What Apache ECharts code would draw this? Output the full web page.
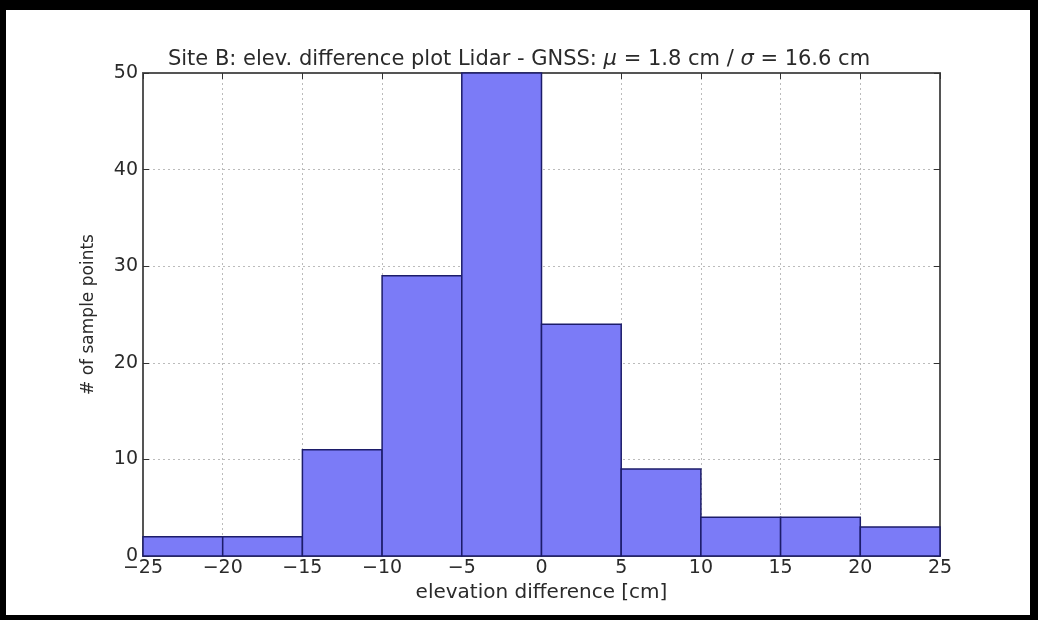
<!DOCTYPE html>
<html>
<head>
<meta charset="utf-8">
<script src="https://cdn.jsdelivr.net/npm/echarts@6/dist/echarts.min.js"></script>
<style>
html,body{margin:0;padding:0;background:#fff;}
#c{width:1038px;height:620px;}
</style>
</head>
<body>
<div id="c"></div>
<script>
// Histogram bins (edges in cm) and counts
var binStarts = [-25, -20, -15, -10, -5, 0, 5, 10, 15, 20];
var binEnds   = [-20, -15, -10, -5, 0, 5, 10, 15, 20, 25];
var counts    = [2, 2, 11, 29, 50, 24, 9, 4, 4, 3];
var xTicks = [-25, -20, -15, -10, -5, 0, 5, 10, 15, 20, 25];
var yTicks = [0, 10, 20, 30, 40, 50];
var titleText = 'Site B: elev. difference plot Lidar - GNSS: ';
var xName = 'elevation difference [cm]';
var yName = '# of sample points';

var data = binStarts.map(function (s, i) { return [s, binEnds[i], counts[i]]; });

var FONT = 'DejaVu Sans';
var chart = echarts.init(document.getElementById('c'), null, {renderer: 'canvas'});

function fmtMinus(v) { return v < 0 ? '\u2212' + Math.abs(v) : String(v); }

var axisLineStyle = {color: '#555', width: 2};
var tickStyle = {show: true, inside: true, length: 6, lineStyle: {color: '#333'}};

chart.setOption({
  backgroundColor: '#fff',
  animation: false,
  title: {
    text: '{n|' + titleText + '}{i|\u03bc}{n| = 1.8 cm / }{i|\u03c3}{n| = 16.6 cm}',
    left: 'center',
    top: 44,
    textStyle: {
      fontWeight: 'normal',
      rich: {
        n: {fontFamily: FONT, fontSize: 21, color: '#2a2a2a', fontWeight: 'normal'},
        i: {fontFamily: FONT, fontSize: 21, color: '#2a2a2a', fontStyle: 'italic', fontWeight: 'normal'}
      }
    }
  },
  grid: {left: 143, right: 98, top: 73, bottom: 64},
  xAxis: [{
    type: 'value', min: -25, max: 25, interval: 5,
    name: xName, nameLocation: 'middle', nameGap: 24,
    nameTextStyle: {fontFamily: FONT, fontSize: 20, color: '#2a2a2a'},
    axisLine: {show: true, onZero: false, lineStyle: axisLineStyle},
    axisTick: tickStyle,
    axisLabel: {fontFamily: FONT, fontSize: 19, color: '#2a2a2a', margin: 3, formatter: fmtMinus},
    splitLine: {show: true, lineStyle: {color: '#bbb', type: [2, 3], width: 1}}
  }, {
    type: 'value', min: -25, max: 25, interval: 5, position: 'top',
    axisLine: {show: true, onZero: false, lineStyle: axisLineStyle},
    axisTick: tickStyle,
    axisLabel: {show: false}, splitLine: {show: false}
  }],
  yAxis: [{
    type: 'value', min: 0, max: 50, interval: 10,
    name: yName, nameLocation: 'middle', nameGap: 46,
    nameTextStyle: {fontFamily: FONT, fontSize: 17, color: '#2a2a2a'},
    axisLine: {show: true, onZero: false, lineStyle: axisLineStyle},
    axisTick: tickStyle,
    axisLabel: {fontFamily: FONT, fontSize: 19, color: '#2a2a2a', margin: 5},
    splitLine: {show: true, lineStyle: {color: '#bbb', type: [2, 3], width: 1}}
  }, {
    type: 'value', min: 0, max: 50, interval: 10, position: 'right',
    axisLine: {show: true, onZero: false, lineStyle: axisLineStyle},
    axisTick: tickStyle,
    axisLabel: {show: false}, splitLine: {show: false}
  }],
  graphic: [
    {type: 'rect', shape: {x: 0, y: 0, width: 1038, height: 10}, style: {fill: '#000'}, z: 100},
    {type: 'rect', shape: {x: 0, y: 615, width: 1038, height: 5}, style: {fill: '#000'}, z: 100},
    {type: 'rect', shape: {x: 0, y: 0, width: 6, height: 620}, style: {fill: '#000'}, z: 100},
    {type: 'rect', shape: {x: 1030, y: 0, width: 8, height: 620}, style: {fill: '#000'}, z: 100}
  ],
  series: [{
    type: 'custom',
    xAxisIndex: 0, yAxisIndex: 0,
    data: data,
    encode: {x: [0, 1], y: 2},
    renderItem: function (params, api) {
      var p0 = api.coord([api.value(0), 0]);
      var p1 = api.coord([api.value(1), api.value(2)]);
      return {
        type: 'rect',
        shape: {x: p0[0], y: p1[1], width: p1[0] - p0[0], height: p0[1] - p1[1]},
        style: {fill: '#7b7bf7', stroke: '#1c1c6a', lineWidth: 1.5}
      };
    },
    z: 3
  }]
});
</script>
</body>
</html>
